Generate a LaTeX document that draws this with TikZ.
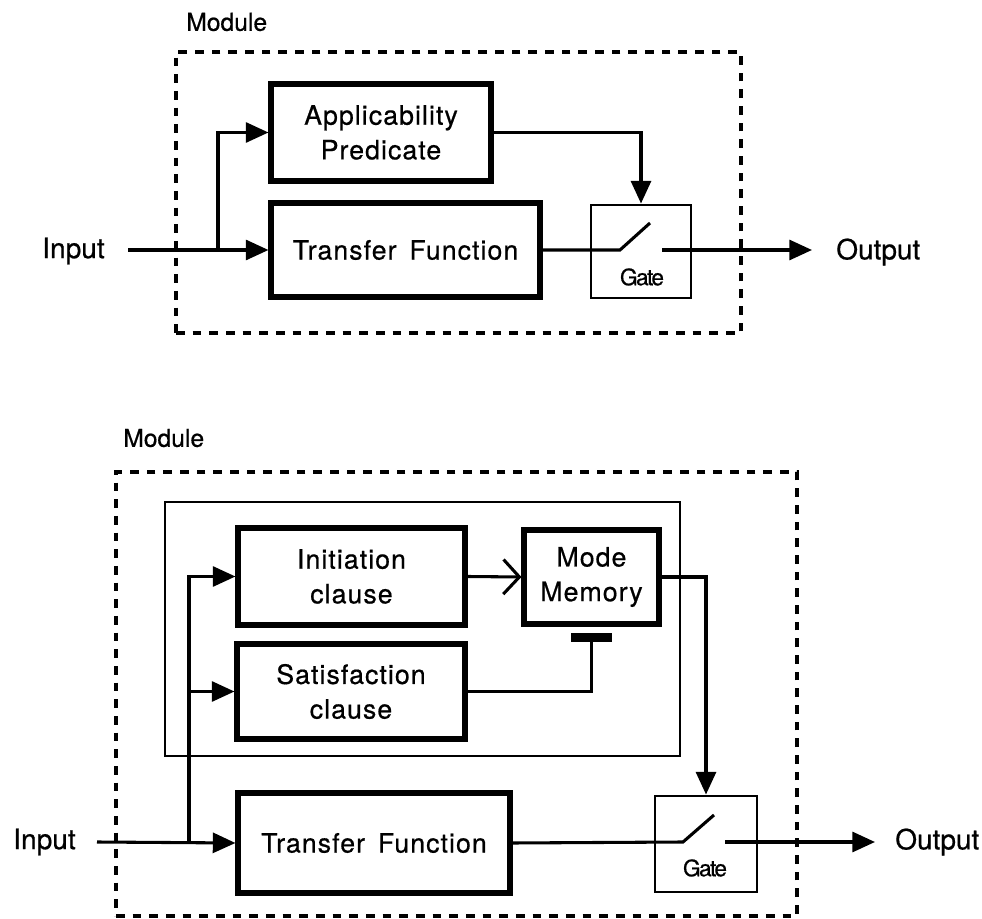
\documentclass[tikz,border=0pt]{standalone}
\usepackage{fontspec}
\setmainfont[FakeBold=0.6]{TeX Gyre Heros}
\usetikzlibrary{arrows.meta}
\begin{document}
\begin{tikzpicture}[x={(0.75pt,0)},y={(0,-0.75pt)},
  thickbox/.style={draw,line width=3.8pt,inner sep=0pt,align=center,font=\fontsize{20}{26}\selectfont\addfontfeatures{LetterSpace=4}},
  thinbox/.style={draw,line width=2.2pt,inner sep=0pt},
  modbox/.style={draw,line width=2.6pt,dash pattern=on 6.5pt off 6pt,inner sep=0pt},
  conn/.style={line width=2.3pt},
  arr/.style={conn,-{Triangle[length=17pt,width=15pt]}},
  openarr/.style={conn,-{Straight Barb[length=12pt,width=26pt,line width=2.3pt]}},
  lbl/.style={inner sep=0pt,anchor=west,font=\fontsize{21}{24}\selectfont},
  modlbl/.style={inner sep=0pt,anchor=west,font=\fontsize{18.5}{22}\selectfont},
  gatelbl/.style={inner sep=0pt,font=\fontsize{17}{18}\selectfont\addfontfeatures{LetterSpace=-7}},
  bar/.style={fill=black,draw=none,inner sep=0pt,minimum width=30.75pt,minimum height=6.75pt}]
\useasboundingbox (0,0) rectangle (982,919);

% ---------------- top diagram ----------------
\node[modbox,minimum width=423.75pt,minimum height=210.75pt] (modA) at (458.5,192.5) {};
\node[modlbl] (modAlbl) at (186,22) {Module};
\node[thickbox,minimum width=165pt,minimum height=72.75pt] (apA) at (381,132.5) {Applicability\\Predicate};
\node[thickbox,minimum width=201.75pt,minimum height=70.5pt] (tfA) at (405.5,250) {Transfer\, Function};
\node[thinbox,minimum width=75pt,minimum height=69.75pt] (gtA) at (641,251.5) {};
\node[gatelbl] (gtAlbl) at (642,277) {Gate};
\node[lbl] (inA) at (42,251) {Input};
\node[lbl] (outA) at (836,252) {Output};
\coordinate (inAs) at (128,250);
\coordinate (brA) at (218,250);
\coordinate (swA1) at (620,250);
\coordinate (swA2) at (650,223);
\coordinate (swA3) at (662,250);
\coordinate (outAt) at (812,250);

\draw[arr] (inAs) -- (tfA.west);
\draw[arr] (brA) |- (apA.west);
\draw[arr] (apA.east) -| (gtA.north);
\draw[conn] (tfA.east) -- (swA1) -- (swA2);
\draw[arr] (swA3) -- (outAt);

% ---------------- bottom diagram ----------------
\node[modbox,minimum width=510.75pt,minimum height=333pt] (modB) at (456.5,694) {};
\node[modlbl] (modBlbl) at (123,438) {Module};
\node[thinbox,minimum width=386.25pt,minimum height=190.5pt] (frame) at (422.5,629) {};
\node[thickbox,minimum width=170.25pt,minimum height=72.75pt] (init) at (351.5,576.5) {Initiation\\clause};
\node[thickbox,minimum width=101.25pt,minimum height=70.5pt] (mm) at (591.5,577) {Mode\\Memory};
\node[thickbox,minimum width=171pt,minimum height=71.25pt] (sat) at (351,691.5) {Satisfaction\\clause};
\node[bar] (tbar) at (591.5,637.5) {};
\node[thickbox,minimum width=204pt,minimum height=75pt] (tfB) at (374,843) {Transfer\, Function};
\node[thinbox,minimum width=76.5pt,minimum height=72pt] (gtB) at (706,844) {};
\node[gatelbl] (gtBlbl) at (705,868) {Gate};
\node[lbl] (inB) at (13,842) {Input};
\node[lbl] (outB) at (895,842) {Output};
\coordinate (inBs) at (97,842);
\coordinate (brB) at (189,842);
\coordinate (brBm) at (189,691.5);
\coordinate (swB1) at (683,842);
\coordinate (swB2) at (714,815);
\coordinate (swB3) at (725,842);
\coordinate (outBt) at (875,842);

\draw[arr] (inBs) -- (tfB.west);
\draw[arr] (brB) |- (init.west);
\draw[arr] (brBm) -- (sat.west);
\draw[openarr] (init.east) -- (mm.west);
\draw[conn] (sat.east) -| (tbar.south);
\draw[arr] (mm.east) -| (gtB.north);
\draw[conn] (tfB.east) -- (swB1) -- (swB2);
\draw[arr] (swB3) -- (outBt);
\end{tikzpicture}
\end{document}
